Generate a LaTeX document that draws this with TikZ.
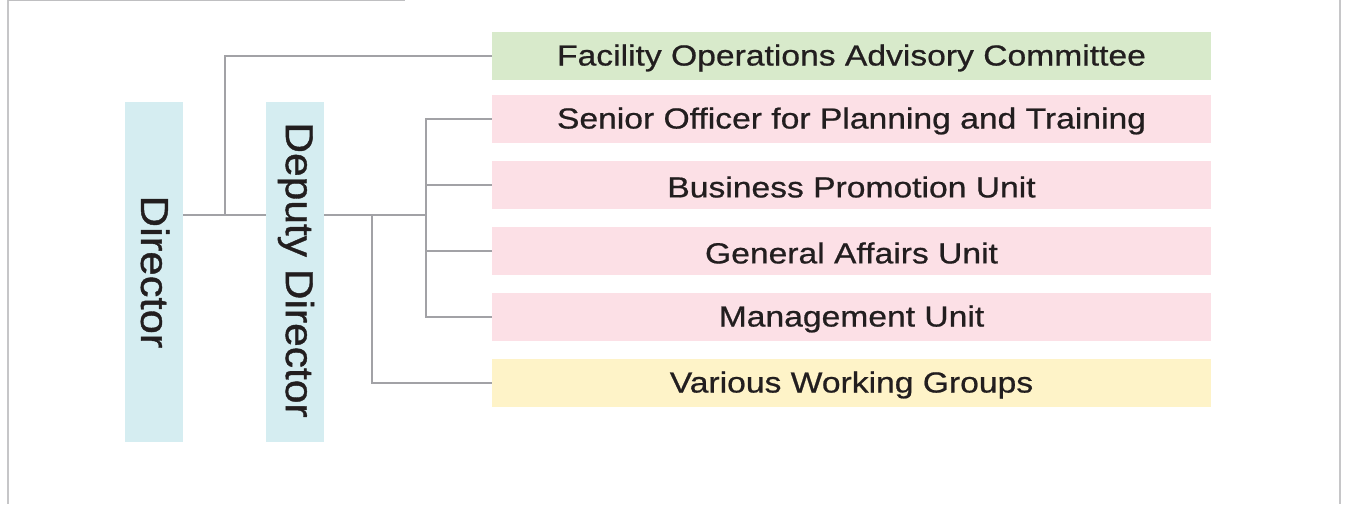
\documentclass[tikz,border=0pt]{standalone}
\usepackage{fontspec}
\setmainfont{Liberation Sans}
\newfontfamily\boxfont[FakeStretch=1.16,FakeBold=0.7]{Liberation Sans}
\newfontfamily\vertfont[FakeStretch=1.12,FakeBold=1]{Liberation Sans}
\newfontfamily\vertfontb[FakeStretch=1.09,FakeBold=1]{Liberation Sans}
\definecolor{linegray}{HTML}{A2A2A6}
\definecolor{framegray}{HTML}{C6C6C8}
\definecolor{txt}{HTML}{221E1F}
\definecolor{fillblue}{HTML}{D5EDF1}
\definecolor{fillgreen}{HTML}{D8EACB}
\definecolor{fillpink}{HTML}{FCE0E6}
\definecolor{fillyellow}{HTML}{FEF3C8}
\tikzset{
  vbox/.style={fill=fillblue, minimum width=58pt, minimum height=340pt, inner sep=0pt, text=txt},
  vlabel/.style={rotate=-90, font=\vertfont\fontsize{39}{39}\selectfont},
  vlabelb/.style={rotate=-90, font=\vertfontb\fontsize{39}{39}\selectfont},
  hbox/.style={minimum width=719pt, minimum height=48pt, inner sep=0pt, text=txt,
    font=\boxfont\fontsize{29}{29}\selectfont},
  conn/.style={draw=linegray, line width=2pt},
  frame/.style={draw=framegray, line width=2pt}
}
\begin{document}
\begin{tikzpicture}[x=1pt, y=-1pt]
\useasboundingbox (0,0) rectangle (1348,504);
% frame
\draw[frame] (8,0) -- (8,504);
\draw[frame] (1339.5,0) -- (1339.5,504);
\draw[draw=framegray!90!gray, line width=1.5pt] (8,0.5) -- (405,0.5);
% vertical boxes
\node[vbox] (dir) at (154,272) {};
\node[vlabel, text=txt] (dirt) at (155,272) {Director};
\node[vbox] (dep) at (295,272) {};
\node[vlabelb, text=txt] (dept) at (296,270) {Deputy Director};
% right boxes
\node[hbox, fill=fillgreen] (f) at (851.5,56) {};
\node[hbox, fill=fillpink] (s) at (851.5,119) {};
\node[hbox, fill=fillpink] (b) at (851.5,185) {};
\node[hbox, fill=fillpink] (g) at (851.5,251) {};
\node[hbox, fill=fillpink] (m) at (851.5,317) {};
\node[hbox, fill=fillyellow] (v) at (851.5,383) {};
\node[hbox, fill=none, yshift=-2pt] (ft) at (f) {Facility Operations Advisory Committee};
\node[hbox, fill=none, yshift=-2pt] (st) at (s) {Senior Officer for Planning and Training};
\node[hbox, fill=none, yshift=-2pt] (bt) at (b) {Business Promotion Unit};
\node[hbox, fill=none, yshift=-2pt] (gt) at (g) {General Affairs Unit};
\node[hbox, fill=none, yshift=-2pt] (mt) at (m) {Management Unit};
\node[hbox, fill=none, yshift=-2pt] (vt) at (v) {Various Working Groups};
% junctions
\coordinate (j1) at (225,215);
\coordinate (j2) at (426,215);
\coordinate (j3) at (372,215);
% connectors
\draw[conn] (dir.east |- j1) -- (dep.west |- j1);
\draw[conn] (j1) |- (f.west);
\draw[conn] (dep.east |- j2) -- (j2);
\draw[conn] (s.west) -| (j2) |- (m.west);
\draw[conn] (j2 |- b.west) -- (b.west);
\draw[conn] (j2 |- g.west) -- (g.west);
\draw[conn] (j3) |- (v.west);
\end{tikzpicture}
\end{document}
